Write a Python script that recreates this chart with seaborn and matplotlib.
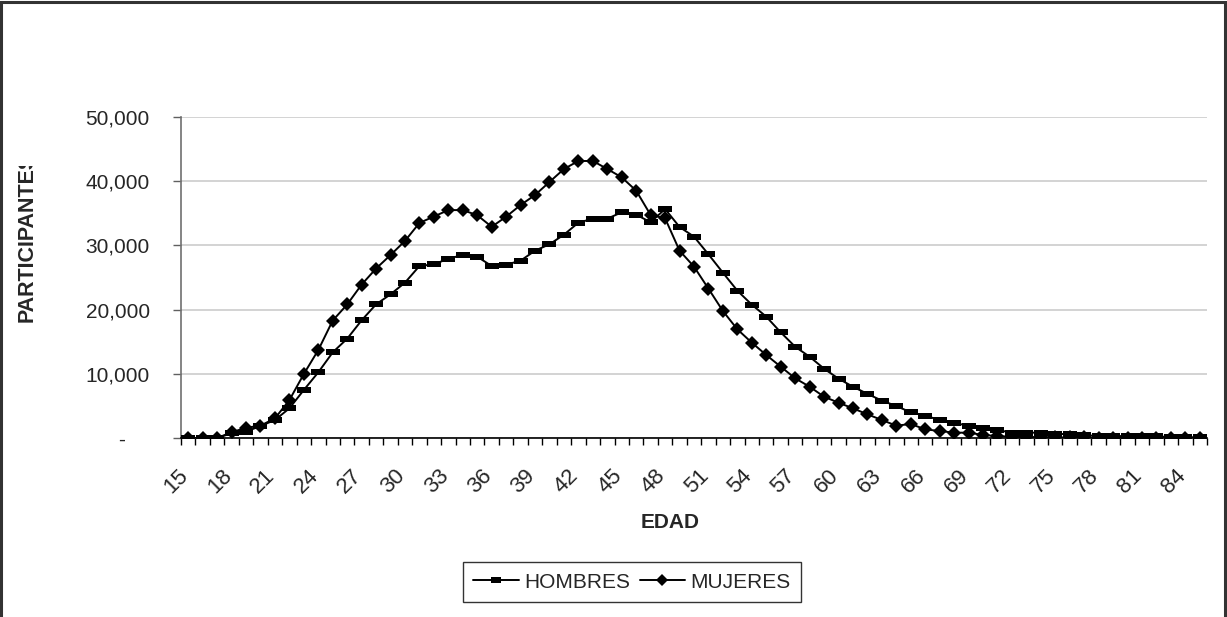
import numpy as np
import pandas as pd
import matplotlib
matplotlib.use("Agg")
import matplotlib.pyplot as plt
from matplotlib.patches import Rectangle
from matplotlib.transforms import Bbox, TransformedBbox, ScaledTranslation
import seaborn as sns

# Edades (una categoría por año)
edades = list(range(15, 86))

hombres = [
    0, 0, 0, 730, 990, 1870, 2800, 4620, 7480, 10230,
    13340, 15470, 18330, 20820, 22380, 24200, 26790, 27050, 27930, 28500,
    28240, 26790, 27000, 27620, 29180, 30170, 31670, 33540, 34160, 34160,
    35160, 34790, 33600, 35670, 32870, 31360, 28610, 25750, 22950, 20770,
    18900, 16460, 14220, 12660, 10800, 9240, 7990, 6880, 5820, 4980,
    4000, 3480, 2800, 2390, 1870, 1500, 1250, 830, 830, 830,
    620, 620, 400, 350, 300, 300, 280, 250, 150, 120,
    100,
]

mujeres = [
    0, 0, 0, 890, 1600, 1920, 3060, 5900, 9970, 13700,
    18300, 20800, 23900, 26400, 28500, 30700, 33500, 34500, 35500, 35500,
    34700, 32900, 34470, 36290, 37850, 39880, 41900, 43150, 43150, 41900,
    40600, 38520, 34730, 34220, 29180, 26690, 23260, 19780, 16930, 14850,
    12930, 11110, 9300, 7990, 6430, 5500, 4620, 3690, 2800, 1920,
    2180, 1350, 1090, 830, 830, 470, 300, 200, 150, 150,
    100, 80, 80, 60, 60, 50, 50, 40, 40, 30,
    30,
]

series = ["HOMBRES", "MUJERES"]
y_ticks = [0, 10000, 20000, 30000, 40000, 50000]
y_tick_labels = ["-", "10,000", "20,000", "30,000", "40,000", "50,000"]
x_tick_ages = list(range(15, 86, 3))
x_label = "EDAD"
y_label = "PARTICIPANTES"

sns.set_style("white")
plt.rcParams["font.family"] = ["Liberation Sans", "DejaVu Sans"]

fig = plt.figure(figsize=(12.27, 6.17), dpi=100)
ax = fig.add_axes([181 / 1227, 1 - 438 / 617, 1026 / 1227, 321 / 617])

# marcador rectangular ancho para HOMBRES
rect_marker = [(-1, -0.5), (1, -0.5), (1, 0.5), (-1, 0.5), (-1, -0.5)]

df = pd.DataFrame({
    "EDAD": edades * 2,
    "PARTICIPANTES": hombres + mujeres,
    "SERIE": [series[0]] * len(edades) + [series[1]] * len(edades),
})

sns.lineplot(data=df[df.SERIE == series[0]], x="EDAD", y="PARTICIPANTES",
             color="black", lw=1.4, marker=rect_marker, markersize=10,
             markeredgewidth=0, label=series[0], ax=ax, zorder=3)
sns.lineplot(data=df[df.SERIE == series[1]], x="EDAD", y="PARTICIPANTES",
             color="black", lw=1.4, marker="D", markersize=7.5,
             markeredgewidth=0, label=series[1], ax=ax, zorder=3)

ax.set_xlim(14.5, 85.5)
ax.set_ylim(0, 50000)

# Eje Y
ax.set_yticks(y_ticks, labels=y_tick_labels)
ax.yaxis.grid(True, color="#d0d0d0", lw=1.3)
ax.xaxis.grid(False)
ax.tick_params(axis="y", direction="out", length=6, width=1, color="#606060",
               pad=16.5, labelsize=15, left=True)
for lbl in ax.get_yticklabels():
    if lbl.get_text() == "-":
        lbl.set_transform(lbl.get_transform() + ScaledTranslation(-25 / 100, 0, fig.dpi_scale_trans))

# Eje X: marcas en los límites de categoría, etiquetas cada 3 años
ax.set_xticks(x_tick_ages, labels=[str(a) for a in x_tick_ages])
ax.set_xticks(np.arange(14.5, 86, 1), minor=True)
ax.tick_params(axis="x", which="major", length=0, pad=25, labelsize=16,
               labelrotation=45)
ax.tick_params(axis="x", which="minor", direction="out", length=5, width=1,
               color="black", bottom=True)
for lbl in ax.get_xticklabels():
    lbl.set_ha("right")
    lbl.set_va("center")
    lbl.set_rotation_mode("anchor")
    lbl.set_transform(lbl.get_transform() + ScaledTranslation(-3 / 100, 0, fig.dpi_scale_trans))

for s in ["top", "right"]:
    ax.spines[s].set_visible(False)
ax.spines["left"].set_color("#707070")
ax.spines["left"].set_linewidth(1.2)
ax.spines["bottom"].set_color("black")
ax.spines["bottom"].set_linewidth(1.2)

ax.set_xlabel(x_label, fontsize=15, fontweight="bold")
ax.xaxis.set_label_coords((670 - 181) / 1026, (438 - 513) / 321)
ax.set_ylabel("")

# Título del eje Y, recortado por el borde superior del área
yl = fig.text(27.5 / 1227, 1 - 322 / 617, y_label, rotation=90, ha="center",
              va="bottom", fontsize=15.5, fontweight="bold")
yl.set_clip_box(TransformedBbox(Bbox([[0, 0], [1, 1 - 166 / 617]]), fig.transFigure))
yl.set_clip_on(True)

# Leyenda inferior
handles, labels = ax.get_legend_handles_labels()
if ax.get_legend() is not None:
    ax.get_legend().remove()
leg = fig.legend(handles, labels, loc="center", bbox_to_anchor=(632 / 1227, 1 - 582 / 617),
                 ncol=2, frameon=True, fancybox=False, fontsize=15,
                 handlelength=2.2, handletextpad=0.25, columnspacing=0.45,
                 borderpad=0.5, markerscale=0.75)
leg.get_frame().set_edgecolor("black")
leg.get_frame().set_linewidth(1.0)

# Marco del gráfico
fig.add_artist(Rectangle((1 / 1227, -0.05), 1224 / 1227, 1.05 - 2 / 617,
                         transform=fig.transFigure, fill=False, lw=2.2,
                         ec="#333333", zorder=10))

fig.savefig("out.png", dpi=100, facecolor="white")
